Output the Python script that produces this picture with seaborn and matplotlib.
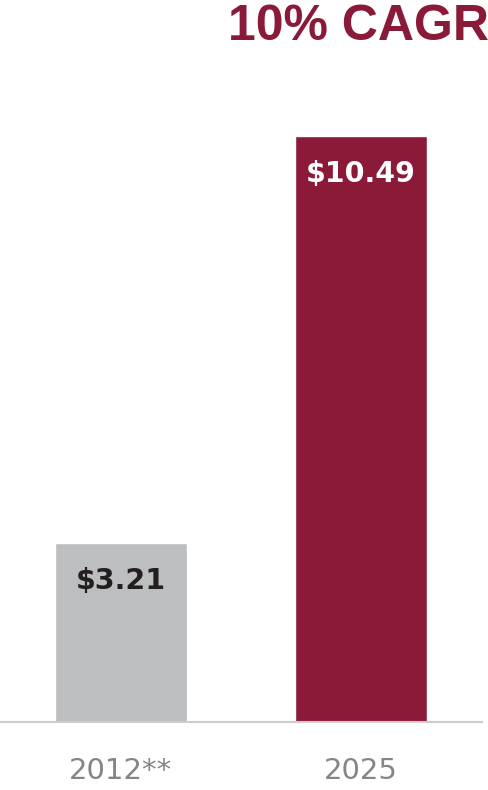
import matplotlib
matplotlib.use("Agg")
import matplotlib.pyplot as plt
import seaborn as sns
import pandas as pd

# chart data
years = ["2012**", "2025"]
values = [3.21, 10.49]
labels = ["$3.21", "$10.49"]
bar_colors = ["#BDBEC0", "#8B1A38"]
label_colors = ["#231F20", "#FFFFFF"]
headline = "10% CAGR"

sns.set_theme(style="white")
plt.rcParams['font.family'] = ['Liberation Sans', 'DejaVu Sans']

data = pd.DataFrame({"year": years, "value": values})

fig = plt.figure(figsize=(4.89, 7.90), dpi=100)
ax = fig.add_axes([0, 68 / 790, 482 / 489, 662 / 790])

sns.barplot(x="year", y="value", data=data, hue="year", palette=bar_colors,
            width=0.55, legend=False, ax=ax, saturation=1)

ax.set_xlim(-0.504, 1.504)
ax.set_ylim(0, 662 / 55.85)

# value labels inside the bars (wide font like the original)
for i, (v, lab) in enumerate(zip(values, labels)):
    ax.annotate(lab, xy=(i, v), xytext=(0, -27.5), textcoords="offset points",
                ha="center", va="center", fontsize=20.5, fontweight="bold",
                family="DejaVu Sans", color=label_colors[i])

for s in ["top", "left", "right"]:
    ax.spines[s].set_visible(False)
ax.spines["bottom"].set_color("#CCCCCC")
ax.spines["bottom"].set_linewidth(1.5)

ax.set_yticks([])
ax.set_xlabel("")
ax.set_ylabel("")
ax.tick_params(axis="x", length=0, pad=25, labelcolor="#858585")
for t in ax.get_xticklabels():
    t.set_family("DejaVu Sans")
    t.set_fontsize(21)

fig.text(1.0, 1 - 4 / 790, headline, ha="right", va="top",
         fontsize=36, fontweight="bold", color="#8B1A38")

fig.savefig("out.png", dpi=100)
plt.close()
